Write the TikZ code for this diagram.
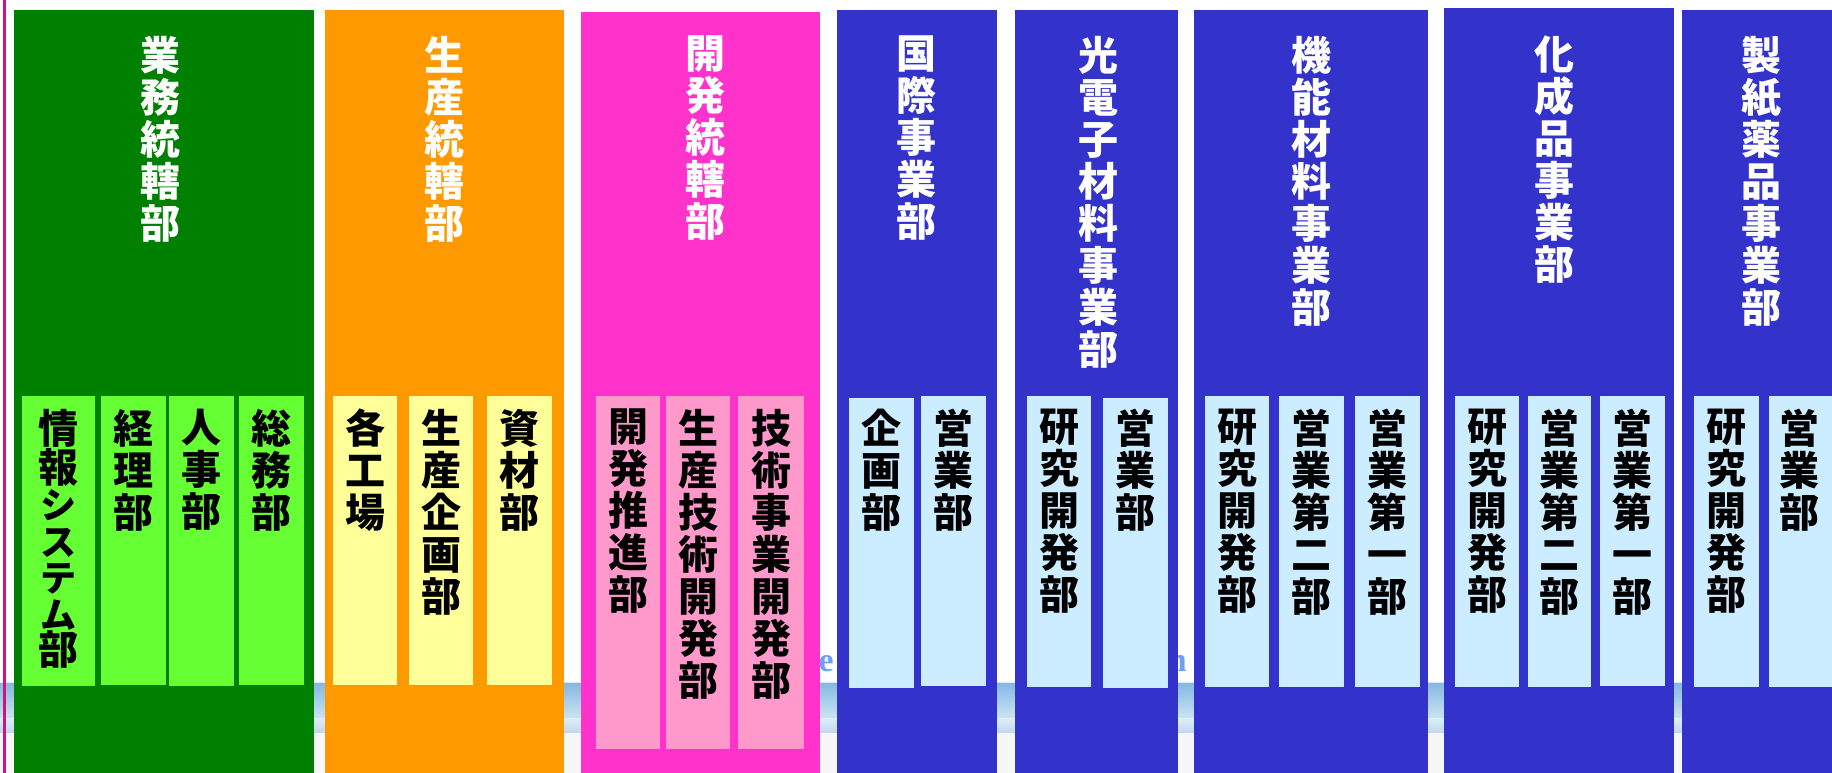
\documentclass[tikz,border=0pt]{standalone}
\usepackage{fontspec}
\newfontfamily\cjk{Noto Sans CJK JP}
\newfontfamily\serifb{Liberation Serif}
\definecolor{colgreen}{HTML}{008000}
\definecolor{subgreen}{HTML}{66FF33}
\definecolor{colorange}{HTML}{FF9900}
\definecolor{suborange}{HTML}{FFFF99}
\definecolor{colmag}{HTML}{FF33CC}
\definecolor{submag}{HTML}{FF99CC}
\definecolor{colblue}{HTML}{3333CC}
\definecolor{subblue}{HTML}{CCECFF}
\definecolor{pinkline}{HTML}{D0157A}
\definecolor{bandtop}{HTML}{86B8E2}
\definecolor{bandmid}{HTML}{CBE4F2}
\definecolor{bandlow}{HTML}{DDEEF7}
\definecolor{bandbot}{HTML}{BFD6EE}
\definecolor{ghost}{HTML}{6F9FF5}
\newcommand\orgbox[6]{\node[fill=#6, draw=none, inner sep=0pt, outer sep=0pt, anchor=north west, minimum width={(#4)-(#2)}, minimum height={(#5)-(#3)}] (#1) at (#2,-#3) {};}
\newcommand\kana[1]{{\fontsize{36}{36}\selectfont #1}}
\begin{document}
\begin{tikzpicture}[x=1pt,y=1pt,
  hdr/.style={text=white, font=\cjk\bfseries\fontsize{40}{42}\selectfont, align=center, inner sep=0pt, anchor=north},
  subt/.style={text=black, font=\cjk\bfseries\fontsize{40}{42}\selectfont, align=center, inner sep=0pt, anchor=north},
  ghosttext/.style={text=ghost, font=\serifb\bfseries\fontsize{34}{36}\selectfont, inner sep=0pt}]
\useasboundingbox (0,0) rectangle (1832,-773);
\fill[white] (0,0) rectangle (1832,-773);
% background band
\fill[black!10] (0,-682) rectangle (1832,-684);
\shade[top color=bandtop, bottom color=bandmid] (0,-683.5) rectangle (1832,-718);
\shade[top color=bandlow, bottom color=bandbot] (0,-718) rectangle (1832,-733);
\fill[black!3] (0,-733) rectangle (1832,-773);
\draw[line width=2.7pt, pinkline] (4.6,0) -- (4.6,-773);
% ghost letters behind the columns
\node[ghosttext, anchor=base east] (ge) at (834,-671) {e};
\node[ghosttext, anchor=base east] (gn) at (1187,-671) {n};
% columns
\orgbox{c1}{14}{10}{314}{775}{colgreen}
\orgbox{c2}{325}{10}{564}{775}{colorange}
\orgbox{c3}{581}{12}{820}{775}{colmag}
\orgbox{c4}{837}{10}{997}{775}{colblue}
\orgbox{c5}{1015}{10}{1178}{775}{colblue}
\orgbox{c6}{1194}{10}{1428}{775}{colblue}
\orgbox{c7}{1444}{8}{1674}{775}{colblue}
\orgbox{c8}{1682}{10}{1840}{775}{colblue}
% sub boxes
\orgbox{s11}{22}{396}{95}{686}{subgreen}
\orgbox{s12}{101}{396}{166}{685}{subgreen}
\orgbox{s13}{169}{396}{234}{686}{subgreen}
\orgbox{s14}{239}{396}{304}{685}{subgreen}
\orgbox{s21}{333}{396}{397}{685}{suborange}
\orgbox{s22}{409}{396}{473}{685}{suborange}
\orgbox{s23}{487}{396}{552}{685}{suborange}
\orgbox{s31}{596}{396}{660}{749}{submag}
\orgbox{s32}{666}{396}{730}{749}{submag}
\orgbox{s33}{738}{396}{804}{749}{submag}
\orgbox{s41}{849}{398}{914}{688}{subblue}
\orgbox{s42}{921}{396}{986}{686}{subblue}
\orgbox{s51}{1027}{396}{1091}{687}{subblue}
\orgbox{s52}{1103}{398}{1168}{688}{subblue}
\orgbox{s61}{1205}{396}{1269}{687}{subblue}
\orgbox{s62}{1279}{396}{1344}{687}{subblue}
\orgbox{s63}{1355}{396}{1420}{687}{subblue}
\orgbox{s71}{1455}{396}{1519}{687}{subblue}
\orgbox{s72}{1528}{396}{1591}{687}{subblue}
\orgbox{s73}{1600}{396}{1665}{686}{subblue}
\orgbox{s81}{1694}{396}{1759}{687}{subblue}
\orgbox{s82}{1769}{396}{1840}{687}{subblue}
% headers
\node[hdr] (h1) at (160,-36) {業\\務\\統\\轄\\部};
\node[hdr] (h2) at (444,-36) {生\\産\\統\\轄\\部};
\node[hdr] (h3) at (705,-36) {開\\発\\統\\轄\\部};
\node[hdr] (h4) at (916,-36) {国\\際\\事\\業\\部};
\node[hdr] (h5) at (1098,-36) {光\\電\\子\\材\\料\\事\\業\\部};
\node[hdr] (h6) at (1311,-36) {機\\能\\材\\料\\事\\業\\部};
\node[hdr] (h7) at (1554,-36) {化\\成\\品\\事\\業\\部};
\node[hdr] (h8) at (1761,-36) {製\\紙\\薬\\品\\事\\業\\部};
% sub texts
\node[subt, font=\cjk\bfseries\fontsize{40}{36.5}\selectfont] (t11) at (s11.center |- 0,-409) {情\\報\\\kana{シ}\\\kana{ス}\\\kana{テ}\\\kana{ム}\\部};
\node[subt] (t12) at (s12.center |- 0,-409) {経\\理\\部};
\node[subt] (t13) at (s13.center |- 0,-409) {人\\事\\部};
\node[subt] (t14) at (s14.center |- 0,-409) {総\\務\\部};
\node[subt] (t21) at (s21.center |- 0,-409) {各\\工\\場};
\node[subt] (t22) at (s22.center |- 0,-409) {生\\産\\企\\画\\部};
\node[subt] (t23) at (s23.center |- 0,-409) {資\\材\\部};
\node[subt] (t31) at (s31.center |- 0,-409) {開\\発\\推\\進\\部};
\node[subt] (t32) at (s32.center |- 0,-409) {生\\産\\技\\術\\開\\発\\部};
\node[subt] (t33) at (s33.center |- 0,-409) {技\\術\\事\\業\\開\\発\\部};
\node[subt] (t41) at (s41.center |- 0,-409) {企\\画\\部};
\node[subt] (t42) at (s42.center |- 0,-409) {営\\業\\部};
\node[subt] (t51) at (s51.center |- 0,-409) {研\\究\\開\\発\\部};
\node[subt] (t52) at (s52.center |- 0,-409) {営\\業\\部};
\node[subt] (t61) at (s61.center |- 0,-409) {研\\究\\開\\発\\部};
\node[subt] (t62) at (s62.center |- 0,-409) {営\\業\\第\\二\\部};
\node[subt] (t63) at (s63.center |- 0,-409) {営\\業\\第\\一\\部};
\node[subt] (t71) at (s71.center |- 0,-409) {研\\究\\開\\発\\部};
\node[subt] (t72) at (s72.center |- 0,-409) {営\\業\\第\\二\\部};
\node[subt] (t73) at (s73.center |- 0,-409) {営\\業\\第\\一\\部};
\node[subt] (t81) at (s81.center |- 0,-409) {研\\究\\開\\発\\部};
\node[subt] (t82) at (1799,-409) {営\\業\\部};
\end{tikzpicture}
\end{document}
